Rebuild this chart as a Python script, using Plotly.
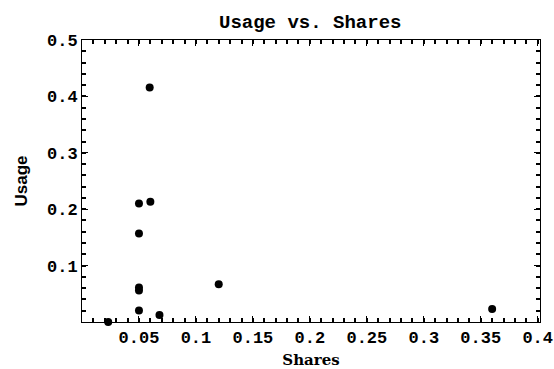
import plotly.graph_objects as go

shares = [0.023, 0.05, 0.05, 0.05, 0.05, 0.05, 0.06, 0.0594, 0.068, 0.12, 0.36]
usage = [0.0, 0.0205, 0.056, 0.061, 0.157, 0.210, 0.213, 0.416, 0.0124, 0.067, 0.023]

x_ticks = [0.05, 0.1, 0.15, 0.2, 0.25, 0.3, 0.35, 0.4]
x_labels = ["0.05", "0.1", "0.15", "0.2", "0.25", "0.3", "0.35", "0.4"]
y_ticks = [0.1, 0.2, 0.3, 0.4, 0.5]
y_labels = ["0.1", "0.2", "0.3", "0.4", "0.5"]

mono = dict(family="Liberation Mono", size=17, color="black", weight="bold")

fig = go.Figure()
fig.add_trace(go.Scatter(x=shares, y=usage, mode="markers",
                         marker=dict(color="black", size=8), cliponaxis=False))

fig.update_layout(
    width=554, height=369,
    margin=dict(l=82, r=14, t=40, b=47, autoexpand=False),
    paper_bgcolor="white", plot_bgcolor="white",
    showlegend=False,
    title=dict(text="Usage vs. Shares", x=0.56, xref="container", xanchor="center",
               y=1 - 21 / 369, yref="container", yanchor="middle",
               font=dict(family="Liberation Mono", size=19, color="black", weight="bold")),
)

axis_common = dict(showgrid=False, zeroline=False, showline=True, linecolor="black",
                   linewidth=1, mirror="ticks", ticks="inside", ticklen=6,
                   tickcolor="black", tickwidth=1, tickfont=mono, automargin=False)

fig.update_xaxes(range=[0, 0.402], tickmode="array", tickvals=x_ticks, ticktext=x_labels,
                 minor=dict(tickmode="linear", tick0=0, dtick=0.01, ticks="inside",
                            ticklen=4, tickcolor="black", tickwidth=1.5, showgrid=False),
                 title=dict(text="Shares", standoff=10,
                            font=dict(family="DejaVu Serif", size=15, color="black", weight="bold")),
                 **axis_common)
fig.update_yaxes(range=[0, 0.5], tickmode="array", tickvals=y_ticks, ticktext=y_labels,
                 minor=dict(tickmode="linear", tick0=0, dtick=0.02, ticks="inside",
                            ticklen=4, tickcolor="black", tickwidth=1.5, showgrid=False),
                 title=dict(text="Usage", standoff=15,
                            font=dict(family="Liberation Sans", size=17, color="black", weight="bold")),
                 **axis_common)

fig.write_html("out.html", config={"displayModeBar": False},
               post_script="document.body.style.margin='0';")
